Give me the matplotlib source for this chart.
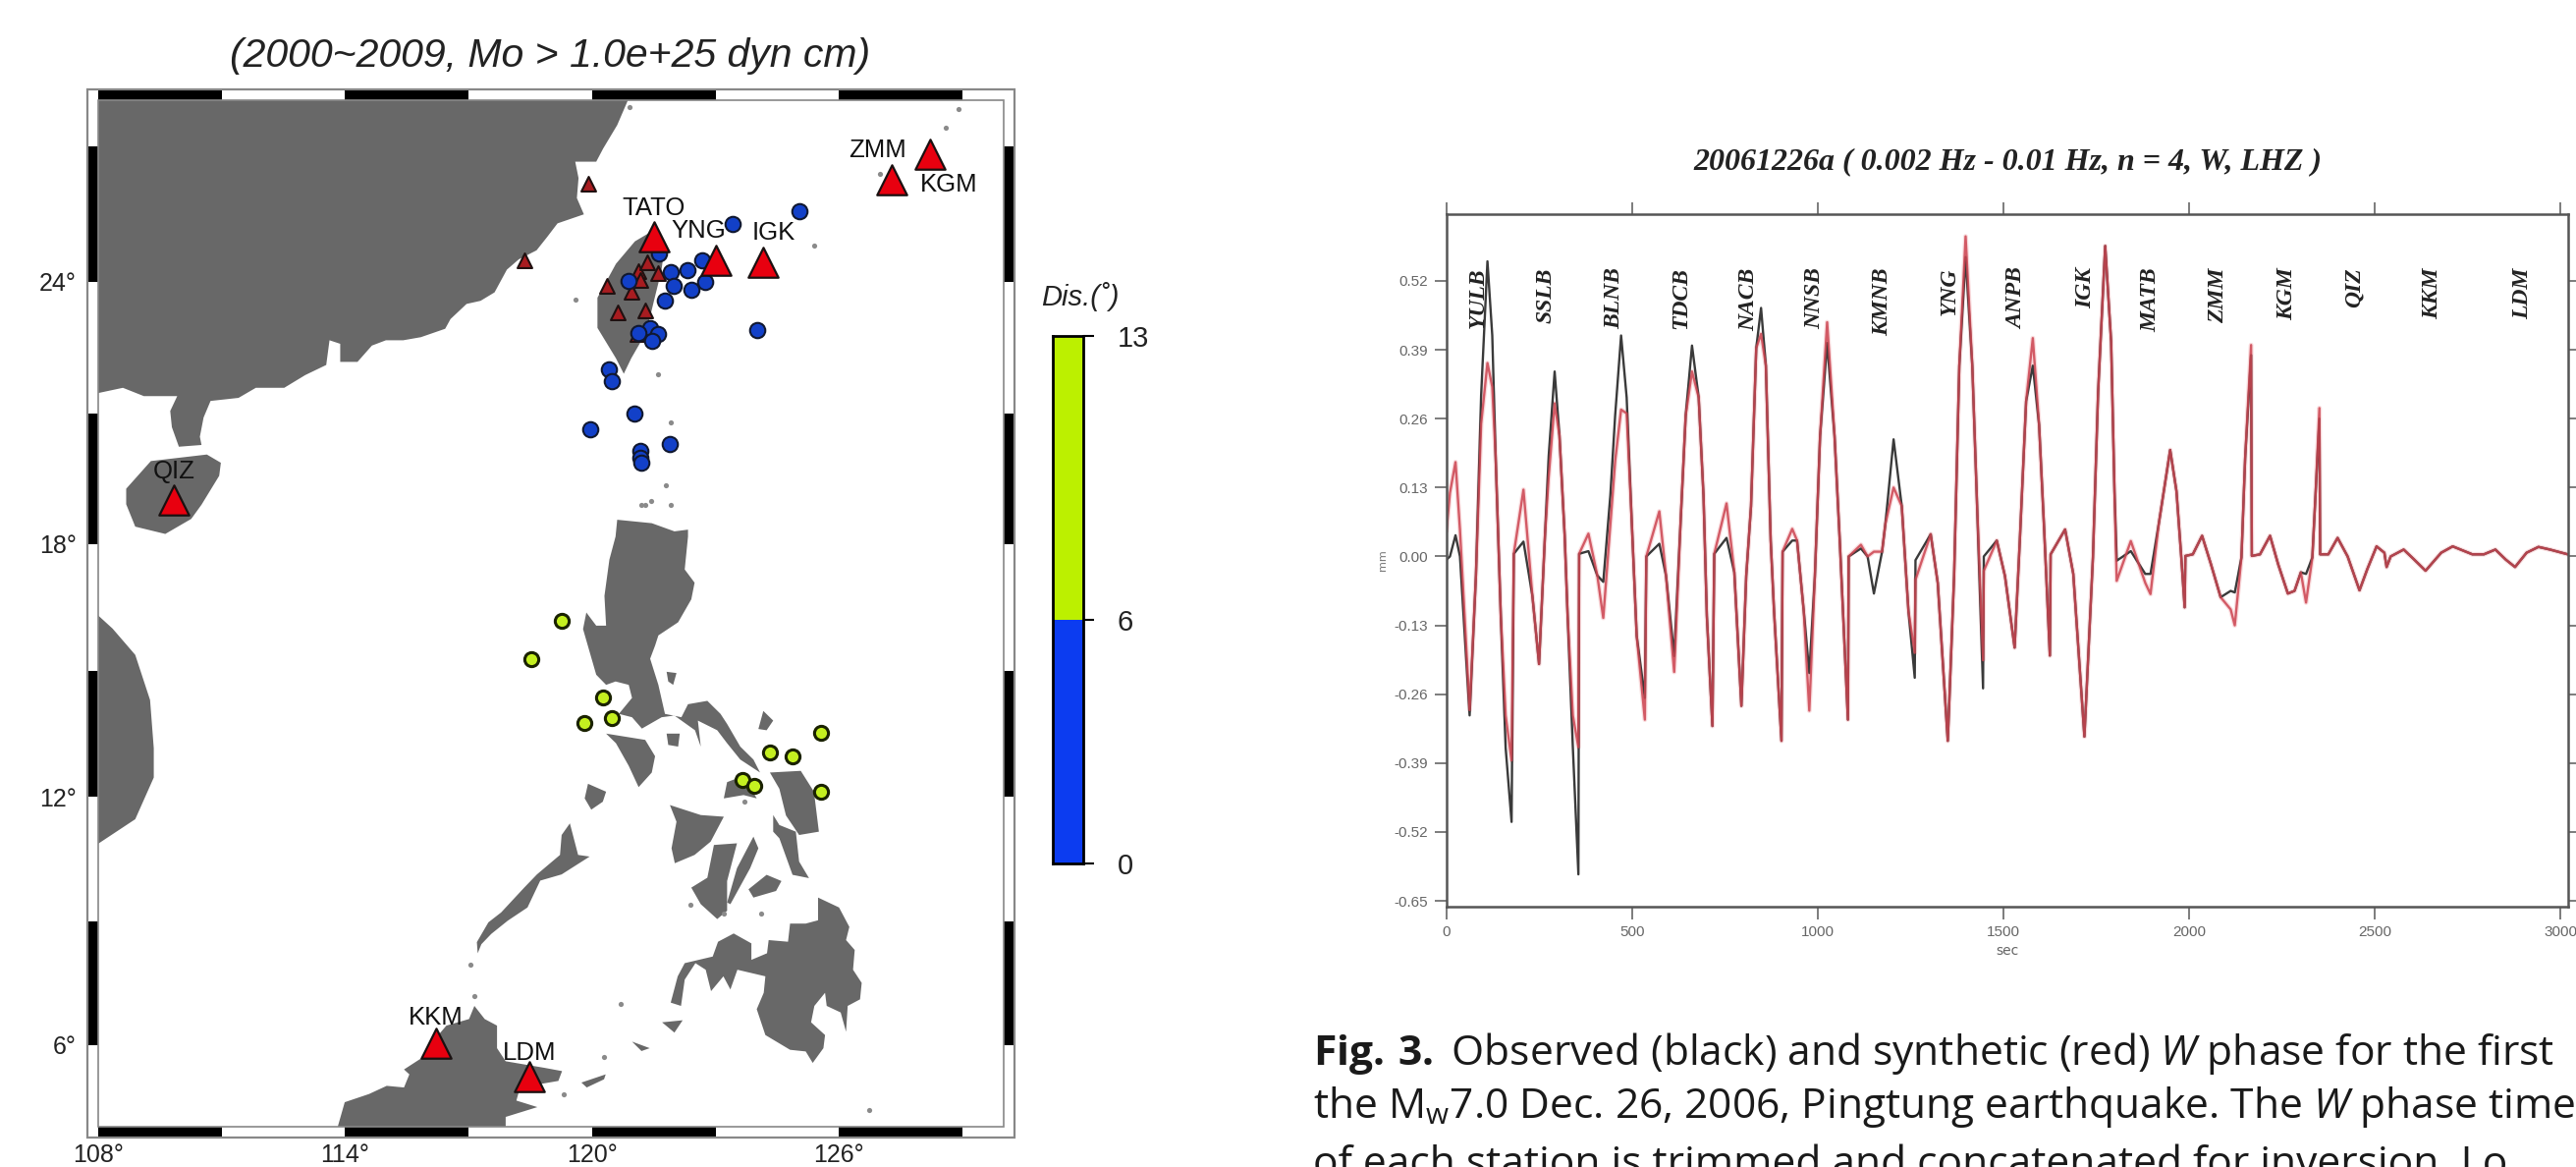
import numpy as np
import matplotlib
matplotlib.use('Agg')
import matplotlib.pyplot as plt
from matplotlib.patches import Rectangle
from matplotlib.transforms import blended_transform_factory

W, H = 2623, 1188

# land outlines, (lon, lat)
china = [(108, 28), (120.87, 28), (120.61, 27.46), (120.27, 26.95), (120.1, 26.66), (119.59, 26.66), (119.67, 26.3),
         (119.63, 25.86), (119.8, 25.5), (119.16, 25.3), (118.91, 25.0), (118.65, 24.7), (118.22, 24.5),
         (117.93, 24.27), (117.63, 23.76), (117.29, 23.57), (116.95, 23.5), (116.56, 23.16), (116.43, 22.94),
         (115.84, 22.75), (115.41, 22.68), (114.99, 22.68), (114.65, 22.56), (114.3, 22.19), (113.88, 22.19),
         (113.88, 22.6), (113.62, 22.68), (113.54, 22.12), (113.03, 21.89), (112.52, 21.6), (111.83, 21.6),
         (111.41, 21.37), (110.73, 21.3), (110.56, 20.92), (110.47, 20.48), (110.51, 20.29), (109.96, 20.25),
         (109.79, 20.7), (109.75, 21.07), (109.92, 21.41), (109.11, 21.41), (108.6, 21.6), (108, 21.48)]
hainan = [(109.28, 19.92), (110.64, 20.07), (110.98, 19.88), (110.94, 19.58), (110.51, 18.91), (110.26, 18.58),
          (109.63, 18.23), (108.9, 18.4), (108.68, 18.92), (108.68, 19.28)]
taiwan = [(121.5, 25.15), (121.77, 24.82), (121.68, 24.23), (121.5, 23.56), (121.32, 22.87), (120.95, 22.27),
          (120.77, 21.92), (120.58, 22.27), (120.13, 22.96), (120.13, 23.64), (120.58, 24.4), (121.04, 24.9)]
luzon = [(120.61, 18.56), (121.45, 18.48), (122.0, 18.29), (122.33, 18.33), (122.33, 18.17), (122.25, 17.4),
         (122.49, 17.09), (122.41, 16.7), (122.09, 16.16), (121.61, 15.85), (121.53, 15.61), (121.41, 15.3),
         (121.61, 14.68), (121.77, 13.99), (122.17, 13.91), (122.33, 14.22), (122.8, 14.3), (123.12, 13.99),
         (123.28, 13.75), (123.6, 13.21), (123.92, 12.9), (124.08, 12.59), (123.6, 12.9), (123.28, 13.29),
         (123.04, 13.6), (122.57, 13.83), (122.64, 13.21), (122.5, 13.6), (122.0, 13.95), (121.69, 13.91),
         (121.21, 13.64), (120.97, 13.91), (120.65, 13.99), (120.97, 14.37), (120.89, 14.68), (120.57, 14.76),
         (120.34, 14.68), (120.1, 14.92), (119.94, 15.46), (119.78, 16.0), (119.86, 16.39), (120.1, 16.08),
         (120.34, 16.08), (120.3, 16.78), (120.42, 17.63), (120.57, 18.17)]
mindoro = [(120.34, 13.52), (121.29, 13.37), (121.53, 12.98), (121.45, 12.59), (121.13, 12.24), (120.89, 12.75),
           (120.58, 13.29)]
panay = [(121.89, 11.81), (122.64, 11.57), (123.2, 11.53), (122.88, 10.93), (122.49, 10.61), (122.01, 10.41),
         (121.93, 10.77), (122.05, 11.41)]
negros = [(122.96, 10.85), (123.52, 10.89), (123.28, 9.98), (123.28, 9.26), (123.04, 9.06), (122.64, 9.42),
          (122.41, 9.82), (122.8, 10.06)]
cebu = [(123.92, 11.05), (124.04, 10.77), (123.84, 10.29), (123.36, 9.42), (123.28, 9.46), (123.52, 10.29)]
bohol = [(123.8, 9.78), (124.24, 10.13), (124.6, 9.98), (124.47, 9.74), (123.92, 9.58)]
leyte = [(124.4, 11.57), (124.55, 11.33), (124.95, 11.17), (125.03, 10.45), (125.27, 10.05), (124.87, 10.13),
         (124.55, 11.01), (124.4, 11.17)]
samar = [(124.32, 12.59), (125.07, 12.63), (125.39, 12.13), (125.51, 11.17), (125.03, 11.09), (124.71, 11.56),
         (124.55, 12.2)]
masbate = [(123.28, 12.36), (123.68, 12.51), (124.0, 11.97), (123.68, 12.05), (123.2, 11.97)]
catanduanes = [(124.16, 14.06), (124.4, 13.83), (124.24, 13.6), (124.04, 13.63)]
marinduque = [(121.81, 14.99), (122.05, 14.96), (121.97, 14.68), (121.85, 14.76)]
tablas = [(121.81, 13.52), (122.13, 13.52), (122.09, 13.21), (121.85, 13.25)]
palawan = [(119.46, 11.37), (119.66, 10.61), (119.94, 10.57), (119.26, 10.14), (118.74, 9.99), (118.43, 9.34),
           (117.95, 9.02), (117.55, 8.7), (117.31, 8.45), (117.22, 8.23), (117.2, 8.5), (117.48, 8.98), (117.79, 9.22),
           (118.35, 9.82), (118.66, 10.14), (119.22, 10.61), (119.26, 11.09)]
calamian = [(119.9, 12.32), (120.34, 12.13), (120.26, 11.89), (119.98, 11.7), (119.82, 11.97)]
mindanao = [(125.49, 9.58), (126.0, 9.34), (126.25, 8.87), (126.17, 8.55), (126.38, 8.31), (126.34, 7.83),
            (126.55, 7.51), (126.51, 7.11), (126.21, 6.95), (126.17, 6.32), (126.04, 6.79), (125.7, 6.95),
            (125.66, 7.27), (125.4, 6.95), (125.32, 6.55), (125.66, 6.24), (125.62, 5.92), (125.36, 5.56),
            (125.19, 5.84), (124.81, 5.88), (124.21, 6.24), (124.0, 6.87), (124.17, 7.27), (124.21, 7.67),
            (123.53, 7.83), (123.36, 7.35), (123.19, 7.67), (122.89, 7.31), (122.76, 7.83), (122.51, 7.99),
            (122.25, 7.59), (122.16, 6.95), (121.91, 7.03), (122.08, 7.67), (122.25, 7.99), (122.93, 8.15),
            (123.06, 8.51), (123.44, 8.71), (123.87, 8.47), (123.87, 8.07), (124.25, 8.23), (124.29, 8.55),
            (124.76, 8.51), (124.81, 8.95), (125.19, 8.95), (125.49, 9.03)]
borneo = [(113.82, 4.0), (113.99, 4.6), (114.58, 4.8), (115.01, 5.0), (115.43, 4.96), (115.56, 5.28), (115.43, 5.4),
          (115.86, 5.68), (115.99, 5.92), (116.46, 6.47), (117.01, 6.63), (117.14, 6.95), (117.39, 6.63),
          (117.69, 6.47), (117.69, 5.92), (117.9, 5.6), (118.84, 5.44), (119.27, 5.36), (119.18, 5.12),
          (118.25, 4.96), (118.16, 4.64), (118.67, 4.48), (117.9, 4.24), (117.9, 4.0)]
jolo = [(121.7, 6.55), (122.2, 6.6), (122.0, 6.3)]
tapul = [(120.97, 6.08), (121.4, 5.92), (121.2, 5.85)]
tawi = [(119.74, 5.08), (120.33, 5.28), (120.29, 5.16), (119.87, 4.96)]
vietnam = [(108, 16.32), (108.35, 16.01), (108.9, 15.39), (109.26, 14.32), (109.35, 13.17), (109.35, 12.47),
           (108.9, 11.47), (108, 10.88)]
land = [china, hainan, taiwan, luzon, mindoro, panay, negros, cebu, bohol, leyte, samar, masbate, catanduanes,
        marinduque, tablas, palawan, calamian, mindanao, borneo, jolo, tapul, tawi, vietnam]

islet_lon = [120.9, 128.9, 128.6, 125.4, 127.0, 119.6, 121.6, 121.9, 121.43, 121.2, 121.3, 121.8, 121.9,
             120.3, 119.3, 117.05, 117.15, 126.72, 120.7, 122.4, 123.7, 123.2, 124.1]
islet_lat = [27.85, 27.8, 27.4, 24.8, 26.4, 23.6, 21.9, 20.8, 19.0, 18.9, 18.9, 19.35, 18.9,
             5.7, 4.8, 7.95, 7.2, 4.4, 7.0, 9.4, 11.9, 9.2, 9.2]

blue_lon = [125.04, 123.42, 121.63, 122.68, 122.32, 121.92, 122.74, 120.88, 121.99, 122.41, 121.77, 124.0,
            121.41, 121.59, 121.13, 121.46, 120.4, 120.49, 121.04, 119.96, 121.88, 121.17, 121.17, 121.19]
blue_lat = [25.58, 25.28, 24.63, 24.48, 24.25, 24.22, 24.0, 24.02, 23.91, 23.81, 23.58, 22.9,
            22.95, 22.82, 22.85, 22.67, 22.01, 21.75, 21.0, 20.66, 20.32, 20.16, 19.99, 19.88]
yellow_lon = [119.27, 118.52, 120.27, 120.49, 119.8, 125.57, 124.33, 124.88, 123.65, 123.93, 125.55]
yellow_lat = [16.2, 15.3, 14.39, 13.9, 13.78, 13.53, 13.07, 12.97, 12.4, 12.28, 12.13]

small_lon = [119.91, 118.36, 120.35, 120.95, 121.13, 121.35, 121.59, 121.17, 120.62, 121.28, 121.1]
small_lat = [26.17, 24.48, 23.9, 23.77, 24.23, 24.44, 24.19, 24.03, 23.31, 23.36, 22.82]

big_names = ['ZMM', 'KGM', 'TATO', 'YNG', 'IGK', 'QIZ', 'KKM', 'LDM']
big_lon = [128.2, 127.29, 121.5, 123.0, 124.16, 109.84, 116.2, 118.48]
big_lat = [26.82, 26.27, 25.0, 24.48, 24.44, 19.02, 6.05, 5.23]
label_lon = [126.94, 128.68, 121.5, 122.59, 124.42, 109.84, 116.2, 118.48]
label_lat = [26.9, 26.15, 25.63, 25.13, 25.08, 19.67, 6.66, 5.8]

lon_ticks = [108, 114, 120, 126]
lat_ticks = [6, 12, 18, 24]
dis_bounds = [0, 6, 13]

# W phase waveform, one row per station
wave_t = [0, 9, 24, 36, 62, 79, 93, 110, 123, 132, 146, 159, 175, 181,
          207, 231, 249, 265, 275, 291, 304, 318, 326, 340, 355, 357,
          382, 406, 422, 441, 454, 470, 485, 498, 512, 534, 538,
          573, 591, 613, 631, 644, 661, 679, 692, 701, 716, 721,
          754, 775, 794, 807, 820, 834, 847, 860, 873, 882, 902, 905,
          931, 944, 962, 977, 992, 1006, 1025, 1045, 1059, 1081, 1083,
          1116, 1134, 1151, 1173, 1182, 1204, 1226, 1244, 1261, 1263,
          1304, 1323, 1350, 1367, 1381, 1398, 1416, 1429, 1445, 1447,
          1482, 1504, 1530, 1544, 1561, 1579, 1596, 1609, 1625, 1627,
          1666, 1688, 1718, 1741, 1755, 1774, 1790, 1799, 1805,
          1843, 1882, 1896, 1918, 1949, 1966, 1979, 1988, 1990,
          2010, 2035, 2059, 2085, 2112, 2123, 2141, 2151, 2167, 2169,
          2191, 2218, 2240, 2266, 2284, 2301, 2315, 2332, 2341, 2351, 2353,
          2375, 2400, 2427, 2459, 2480, 2505, 2526, 2532, 2543, 2578, 2605, 2637,
          2679, 2710, 2742, 2763, 2794, 2825, 2853, 2878, 2909, 2941, 2972, 3020]
observed = [-.006, 0, .04, 0, -.30, -.036, .304, .557, .417, .19, -.112, -.361, -.501, .005,
            .028, -.074, -.203, .04, .19, .349, .228, .04, -.112, -.36, -.60, .005,
            .01, -.036, -.048, .115, .266, .417, .30, .077, -.15, -.267, 0,
            .024, -.036, -.188, .077, .266, .398, .30, .115, -.112, -.32, .005,
            .035, -.03, -.282, -.037, .095, .393, .469, .36, .03, -.103, -.348, .009,
            .03, .03, -.103, -.22, -.037, .227, .403, .227, .03, -.308, 0,
            .015, 0, -.07, .009, .062, .221, .095, -.103, -.229, -.007,
            .042, -.05, -.348, -.037, .36, .565, .36, .095, -.249, 0,
            .03, -.037, -.172, .03, .293, .36, .248, .06, -.187, .004,
            .051, -.033, -.34, -.002, .311, .586, .405, .123, -.008,
            .01, -.033, -.033, .06, .201, .123, -.002, -.096, .001,
            .004, .039, -.015, -.077, -.065, -.068, -.002, .186, .38, .001,
            .004, .039, -.015, -.07, -.065, -.03, -.033, -.002, .123, .26, .004,
            .004, .035, 0, -.064, -.024, .019, .007, -.02, 0, .013, -.005, -.027,
            .007, .019, .01, .004, .004, .013, -.006, -.02, .007, .018, .013, .004]
synthetic = [.05, .12, .178, .05, -.29, -.036, .25, .365, .32, .19, -.112, -.30, -.385, .005,
             .126, -.074, -.203, .04, .15, .289, .228, .04, -.112, -.30, -.36, .005,
             .043, -.036, -.116, .06, .18, .277, .27, .077, -.15, -.308, 0,
             .085, -.036, -.218, .077, .266, .349, .30, .115, -.112, -.32, .005,
             .10, -.03, -.282, -.037, .095, .393, .42, .36, .03, -.103, -.348, .009,
             .052, .03, -.103, -.291, -.037, .227, .442, .227, .03, -.308, 0,
             .022, 0, .009, .009, .062, .13, .095, -.103, -.182, -.044,
             .042, -.05, -.348, -.037, .36, .604, .36, .095, -.196, -.027,
             .03, -.037, -.172, .03, .293, .412, .248, .06, -.187, .004,
             .051, -.033, -.34, -.002, .311, .586, .405, .123, -.046,
             .029, -.05, -.071, .06, .201, .123, -.002, -.096, .001,
             .004, .039, -.015, -.077, -.1, -.13, -.002, .186, .399, .001,
             .004, .039, -.015, -.07, -.065, -.03, -.087, -.002, .123, .28, .004,
             .004, .035, 0, -.064, -.024, .019, .007, -.02, 0, .013, -.005, -.027,
             .007, .019, .01, .004, .004, .013, -.006, -.02, .007, .018, .013, .004]
station_names = ['YULB', 'SSLB', 'BLNB', 'TDCB', 'NACB', 'NNSB', 'KMNB', 'YNG', 'ANPB', 'IGK', 'MATB', 'ZMM',
                 'KGM', 'QIZ', 'KKM', 'LDM']
station_t = [86, 268, 451, 631, 813, 991, 1174, 1354, 1536, 1721, 1897, 2077, 2264, 2444, 2654, 2899]
x_ticks = [0, 500, 1000, 1500, 2000, 2500, 3000]
y_ticks = [0.52, 0.39, 0.26, 0.13, 0.0, -0.13, -0.26, -0.39, -0.52, -0.65]

plt.rcParams['mathtext.fontset'] = 'custom'
plt.rcParams['mathtext.rm'] = 'Open Sans'
plt.rcParams['mathtext.it'] = 'Open Sans:italic'
plt.rcParams['mathtext.bf'] = 'Open Sans:bold'


def axes_px(fig, left, top, right, bottom):
    return fig.add_axes([left / W, 1 - bottom / H, (right - left) / W, (bottom - top) / H])


def merc(lat):
    lat = np.radians(np.asarray(lat, dtype=float))
    return np.degrees(np.log(np.tan(np.pi / 4 + lat / 2)))


def merc_inv(y):
    y = np.radians(np.asarray(y, dtype=float))
    return np.degrees(2 * np.arctan(np.exp(y)) - np.pi / 2)


fig = plt.figure(figsize=(W / 100, H / 100), dpi=100)

# left map
ax = axes_px(fig, 100, 102, 1022, 1147)
ax.set_yscale('function', functions=(merc, merc_inv))
ax.set_xlim(108, 130)
ax.set_ylim(4, 28)
for poly in land:
    xs, ys = zip(*poly)
    ax.fill(xs, ys, color='#686868', lw=0, zorder=1)
ax.scatter(islet_lon, islet_lat, s=14, color='#8a8a8a', lw=0, zorder=1)
ax.scatter(blue_lon, blue_lat, s=125, color='#1240c8', edgecolor='#101830', lw=1.5, zorder=4)
ax.scatter(yellow_lon, yellow_lat, s=105, color='#c4f020', edgecolor='#1a2200', lw=2.2, zorder=4)
ax.scatter(small_lon, small_lat, s=115, marker='^', color='#a81c20', edgecolor='#201010', lw=1.5, zorder=3)
ax.scatter(big_lon, big_lat, s=480, marker='^', color='#e8000f', edgecolor='#1a1010', lw=1.6, zorder=5)
for name, lo, la in zip(big_names, label_lon, label_lat):
    ax.text(lo, la, name, fontsize=18.5, family='Liberation Sans', ha='center', va='center', color='#111111', zorder=6)

ax.set_xticks(lon_ticks)
ax.set_xticklabels([f'{v}°' for v in lon_ticks])
ax.set_yticks(lat_ticks)
ax.set_yticklabels([f'{v}°' for v in lat_ticks])
ax.minorticks_off()
ax.tick_params(length=0, labelsize=18, labelfontfamily='Liberation Sans', labelcolor='#222222')
ax.tick_params(axis='x', pad=12)
ax.tick_params(axis='y', pad=16)
for s in ax.spines.values():
    s.set_visible(False)

# GMT style frame, 3 degree bars
xtr = blended_transform_factory(ax.transData, ax.transAxes)
ytr = blended_transform_factory(ax.transAxes, ax.transData)
fx = 11 / 922
fy = 11 / 1045
for lo in range(108, 130, 3):
    black = (lo - 108) % 6 == 0
    for y0 in (1, -fy):
        ax.add_patch(Rectangle((lo, y0), min(3, 130 - lo), fy, transform=xtr, clip_on=False,
                               fc='black' if black else 'white', ec='none', zorder=7))
for la in range(6, 27, 6):
    for x0 in (1, -fx):
        ax.add_patch(Rectangle((x0, la), fx, 3, transform=ytr, clip_on=False, fc='black', ec='none', zorder=7))
ax.add_patch(Rectangle((-fx, -fy), 1 + 2 * fx, 1 + 2 * fy, transform=ax.transAxes, clip_on=False,
                       fc='none', ec='#888888', lw=1.6, zorder=8))
ax.add_patch(Rectangle((0, 0), 1, 1, transform=ax.transAxes, clip_on=False, fc='none', ec='#888888', lw=1.2, zorder=8))
fig.text(560 / W, 1 - 57 / H, '(2000~2009, Mo > 1.0e+25 dyn cm)', fontsize=29.5, style='italic',
         family='Liberation Sans', ha='center', va='center', color='#222222')

# colorbar
cax = axes_px(fig, 1072, 342, 1103, 879)
cax.bar([0], [dis_bounds[1] - dis_bounds[0]], bottom=dis_bounds[0], width=1, color='#0c3cf0')
cax.bar([0], [dis_bounds[2] - dis_bounds[1]], bottom=dis_bounds[1], width=1, color='#bcf000')
cax.set_xlim(-0.5, 0.5)
cax.set_ylim(0, 13)
cax.set_xticks([])
cax.yaxis.tick_right()
cax.set_yticks(dis_bounds)
cax.tick_params(length=8, width=1.5, pad=17, labelsize=21, labelfontfamily='Liberation Sans', labelcolor='#222222')
for s in cax.spines.values():
    s.set_linewidth(2)
fig.text(1100 / W, 1 - 302 / H, 'Dis.(˚)', fontsize=21, style='italic', family='Liberation Sans',
         ha='center', va='center', color='#222222')

# right waveform panel
wx = axes_px(fig, 1473, 218, 2615, 923)
wx.plot(wave_t, synthetic, color='#f4b8bc', lw=3.5, alpha=0.5)
wx.plot(wave_t, observed, color='#3a3a3a', lw=1.7)
wx.plot(wave_t, synthetic, color='#cc4450', lw=1.7, alpha=0.85)
wx.set_xlim(0, 3021)
wx.set_ylim(-0.661, 0.646)
wx.set_xticks(x_ticks)
wx.set_yticks(y_ticks)
wx.set_yticklabels([f'{v:.2f}' for v in y_ticks])
wx.tick_params(top=True, right=True, length=9, width=1.2, color='#666666', labelsize=11, labelcolor='#666666',
               labelfontfamily='Liberation Sans', pad=5)
for s in wx.spines.values():
    s.set_color('#555555')
    s.set_linewidth(1.8)
wx.set_xlabel('sec', fontsize=10, color='#666666', labelpad=3)
wx.set_ylabel('mm', fontsize=8, color='#777777', labelpad=4)
for name, t in zip(station_names, station_t):
    wx.text(t, 0.545, name, rotation=90, ha='center', va='top', fontsize=17, weight='bold', style='italic',
            family='Liberation Serif', color='#222222')
fig.text(2044 / W, 1 - 165 / H, '20061226a ( 0.002 Hz - 0.01 Hz, n = 4, W, LHZ )', fontsize=23, weight='bold',
         style='italic', family='Liberation Serif', ha='center', va='center', color='#222222')

# caption
cap = [r'$\mathbf{Fig.\,3.}$ Observed (black) and synthetic (red) $\mathit{W}$ phase for the first',
       r'the M$_{\mathrm{w}}$7.0 Dec. 26, 2006, Pingtung earthquake. The $\mathit{W}$ phase time',
       'of each station is trimmed and concatenated for inversion. Lo']
for line, y in zip(cap, [1072, 1127, 1186]):
    fig.text(1337 / W, 1 - y / H, line, fontsize=30.6, family='Open Sans', ha='left', va='center', color='#1a1a1a')

fig.savefig('out.png', dpi=100)
